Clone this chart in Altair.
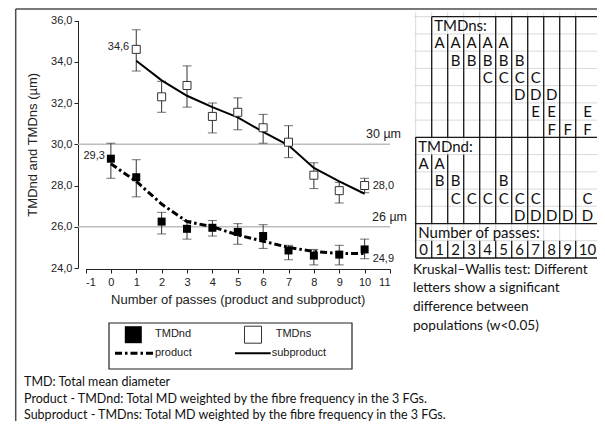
import altair as alt
import pandas as pd

# ---------------- data ----------------
passes_nd = [0, 1, 2, 3, 4, 5, 6, 7, 8, 9, 10]
tmdnd_mean = [29.3, 28.4, 26.25, 25.9, 25.95, 25.75, 25.55, 24.85, 24.6, 24.65, 24.9]
tmdnd_hi = [30.05, 29.25, 26.7, 26.3, 26.3, 26.15, 26.1, 25.1, 24.9, 25.1, 25.4]
tmdnd_lo = [28.35, 27.45, 25.65, 25.4, 25.55, 25.15, 24.95, 24.4, 24.15, 24.15, 24.45]
product_fit = [29.05, 28.2, 27.1, 26.25, 26.0, 25.6, 25.3, 25.0, 24.8, 24.7, 24.7]

passes_ns = [1, 2, 3, 4, 5, 6, 7, 8, 9, 10]
tmdns_mean = [34.6, 32.3, 32.85, 31.35, 31.55, 30.8, 30.1, 28.5, 27.75, 28.0]
tmdns_hi = [35.55, 33.05, 33.8, 32.0, 32.25, 31.45, 30.9, 29.1, 28.15, 28.35]
tmdns_lo = [33.55, 31.55, 31.8, 30.55, 30.7, 30.05, 29.35, 27.85, 27.15, 27.65]
subproduct_fit = [34.05, 33.1, 32.35, 31.8, 31.3, 30.6, 29.95, 28.85, 28.2, 27.6]

ref_levels = [30, 26]
ref_labels = ["30 µm", "26 µm"]

x_ticks = list(range(-1, 12))
y_ticks = [24, 26, 28, 30, 32, 34, 36]

# Kruskal-Wallis letter groups by number of passes
tmdns_groups = {1: "A", 2: "AB", 3: "AB", 4: "ABC", 5: "ABC", 6: "BCD",
                7: "CDE", 8: "DEF", 9: "F", 10: "EF"}
tmdnd_groups = {0: "A", 1: "AB", 2: "BC", 3: "C", 4: "C", 5: "BC", 6: "CD",
                7: "CD", 8: "D", 9: "D", 10: "CD"}
table_passes = list(range(11))
table_headers = ["TMDns:", "TMDnd:", "Number of passes:"]

kw_note = ["Kruskal\u2013Wallis test: Different", "letters show a significant",
           "difference between", "populations (w<0.05)"]
foot_notes = ["TMD: Total mean diameter",
              "Product - TMDnd: Total MD weighted by the fibre frequency in the 3 FGs.",
              "Subproduct - TMDns: Total MD weighted by the fibre frequency in the 3 FGs."]

legend_items = ["TMDnd", "TMDns", "product", "subproduct"]

# ---------------- setup ----------------
FONT = "Liberation Sans"
TFONT = "Lato"
INK = "#222222"
W, H = 589, 413


def fmt(v):
    return f"{v:.1f}".replace(".", ",")


nd = pd.DataFrame({"pass": passes_nd, "mean": tmdnd_mean, "lo": tmdnd_lo,
                   "hi": tmdnd_hi, "fit": product_fit})
ns = pd.DataFrame({"pass": passes_ns, "mean": tmdns_mean, "lo": tmdns_lo,
                   "hi": tmdns_hi, "fit": subproduct_fit})
errs = pd.concat([nd, ns], ignore_index=True)

xs = alt.Scale(domain=[-1, 11], range=[77.5, 382], zero=False, nice=False)
ys = alt.Scale(domain=[24, 36], range=[260, 12.5], zero=False, nice=False)


def X(f):
    return alt.X(f, type="quantitative", scale=xs, axis=None)


def Y(f):
    return alt.Y(f, type="quantitative", scale=ys, axis=None)


layers = []

# reference lines
ref = pd.DataFrame({"level": ref_levels, "label": ref_labels,
                    "x0": [-1.3] * 2, "x1": [11] * 2})
layers.append(alt.Chart(ref).mark_rule(color="#bdbdbd", strokeWidth=1.6).encode(
    x=X("x0"), x2="x1", y=Y("level")))
layers.append(alt.Chart(ref).transform_filter("datum.level == 30").mark_text(
    font=FONT, fontSize=12.5, color=INK, align="left", baseline="bottom", dx=-24, dy=-3
).encode(x=X("x1"), y=Y("level"), text="label"))
layers.append(alt.Chart(ref).transform_filter("datum.level == 26").mark_text(
    font=FONT, fontSize=12.5, color=INK, align="left", baseline="bottom", dx=-18, dy=-3
).encode(x=X("x1"), y=Y("level"), text="label"))

# error bars
layers.append(alt.Chart(errs).mark_rule(color="#333333", strokeWidth=1).encode(
    x=X("pass"), y=Y("lo"), y2="hi"))
layers.append(alt.Chart(errs).transform_fold(["lo", "hi"], as_=["k", "v"]).mark_tick(
    orient="horizontal", size=9, thickness=1, color="#333333").encode(
    x=X("pass"), y=Y("v")))

# fitted lines
layers.append(alt.Chart(ns).mark_line(color="black", strokeWidth=2).encode(
    x=X("pass"), y=Y("fit")))
layers.append(alt.Chart(nd).mark_line(color="black", strokeWidth=3,
                                      strokeDash=[7, 3, 2.5, 3]).encode(
    x=X("pass"), y=Y("fit")))

# points (with axes)
layers.append(alt.Chart(ns).mark_point(shape="square", filled=True, fill="white",
                                       stroke="#333333", strokeWidth=1, size=64,
                                       opacity=1).encode(
    x=X("pass"), y=Y("mean")))
layers.append(alt.Chart(nd).mark_point(shape="square", filled=True, color="black",
                                       size=64, opacity=1).encode(
    x=alt.X("pass", type="quantitative", scale=xs,
            axis=alt.Axis(values=x_ticks, offset=-152, tickSize=4, grid=False,
                          labelExpr="'' + datum.value", labelFontSize=11,
                          labelFont=FONT, labelColor=INK, labelPadding=3,
                          domainColor=INK, tickColor=INK,
                          title="Number of passes (product and subproduct)",
                          titleFont=FONT, titleFontSize=13, titleFontWeight="normal",
                          titleColor=INK, titlePadding=6)),
    y=alt.Y("mean", type="quantitative", scale=ys,
            axis=alt.Axis(values=y_ticks, offset=-70, tickSize=4, grid=False,
                          labelExpr="replace(format(datum.value, '.1f'), '.', ',')",
                          labelFontSize=11, labelFont=FONT, labelColor=INK,
                          labelPadding=2, domainColor=INK, tickColor=INK,
                          title="TMDnd and TMDns (µm)", titleFont=FONT,
                          titleFontSize=13, titleFontWeight="normal",
                          titleColor=INK, titlePadding=11))))

# value labels
lab_ns_first = ns.iloc[[0]].assign(t=[fmt(tmdns_mean[0])])
lab_ns_last = ns.iloc[[-1]].assign(t=[fmt(tmdns_mean[-1])])
lab_nd_first = nd.iloc[[0]].assign(t=[fmt(tmdnd_mean[0])])
lab_nd_last = nd.iloc[[-1]].assign(t=[fmt(tmdnd_mean[-1])])
for d, al, dx, dy in [(lab_ns_first, "right", -7, -2), (lab_nd_first, "right", -6, -3),
                      (lab_ns_last, "left", 8, 0), (lab_nd_last, "left", 8, 10)]:
    layers.append(alt.Chart(d).mark_text(font=FONT, fontSize=11, color=INK, align=al,
                                         baseline="middle", dx=dx, dy=dy).encode(
        x=X("pass"), y=Y("mean"), text="t"))

# ---------------- table ----------------
tx = alt.Scale(domain=[0, 10, 11], range=[407.7, 567.7, 591.3], zero=False, nice=False)
ty = alt.Scale(domain=[0, 14], range=[8.7, 250], zero=False, nice=False)


def TX(f):
    return alt.X(f, type="quantitative", scale=tx, axis=None)


def TY(f):
    return alt.Y(f, type="quantitative", scale=ty, axis=None)


grid_h = pd.DataFrame({"r": list(range(15))}).assign(c0=-0.1, c1=11.12)
grid_v = pd.DataFrame({"c": list(range(12))}).assign(r0=-0.25, r1=14)
layers.append(alt.Chart(grid_h).mark_rule(color="#d9d9d9", strokeWidth=1).encode(
    x=TX("c0"), x2="c1", y=TY("r")))
layers.append(alt.Chart(grid_v).mark_rule(color="#d9d9d9", strokeWidth=1).encode(
    x=TX("c"), y=TY("r0"), y2="r1"))

segs = []
for r, c0, c1 in [(0, 1, 11), (7, 0, 11), (12, 0, 11), (14, 0, 11)]:
    segs.append({"x1": c0, "x2": c1, "y1": r, "y2": r})
vsegs = [(0, 7, 14), (1, 0, 7), (1, 8, 12), (4, 1, 12), (11, 0, 14)]
for c in (2, 3):
    vsegs += [(c, 1, 7), (c, 8, 12)]
for c in range(5, 11):
    vsegs += [(c, 0, 12)]
for c in range(1, 11):
    vsegs += [(c, 13, 14)]
for c, r0, r1 in vsegs:
    segs.append({"x1": c, "x2": c, "y1": r0, "y2": r1})
segs = pd.DataFrame(segs)
layers.append(alt.Chart(segs).mark_rule(color="#1a1a1a", strokeWidth=1.3).encode(
    x=TX("x1"), x2="x2", y=TY("y1"), y2="y2"))

cells = []
for p, letters in tmdns_groups.items():
    for L in letters:
        cells.append({"c": p, "r": 1 + ord(L) - 65, "t": L})
for p, letters in tmdnd_groups.items():
    for L in letters:
        cells.append({"c": p, "r": 8 + ord(L) - 65, "t": L})
for p in table_passes:
    cells.append({"c": p, "r": 13, "t": str(p)})
cells = pd.DataFrame(cells)
layers.append(alt.Chart(cells).transform_calculate(
    cx="datum.c + 0.5", cy="datum.r + 0.55").mark_text(
    font=TFONT, fontSize=15, color="#111111", align="center", baseline="middle").encode(
    x=TX("cx"), y=TY("cy"), text="t"))

heads = pd.DataFrame({"t": table_headers, "c": [1, 0, 0], "r": [0, 7, 12]})
layers.append(alt.Chart(heads).transform_calculate(cy="datum.r + 0.55").mark_text(
    font=TFONT, fontSize=15, color="#111111", align="left", baseline="middle", dx=2.5
).encode(x=TX("c"), y=TY("cy"), text="t"))

layers.append(alt.Chart(pd.DataFrame({"n": [0]})).mark_text(
    font=TFONT, fontSize=13.6, color="#111111", align="left", baseline="top",
    lineHeight=18.7).encode(
    x=alt.value(405), y=alt.value(254.5), text=alt.value(kw_note)))

# ---------------- footnotes ----------------
layers.append(alt.Chart(pd.DataFrame({"n": [0]})).mark_text(
    font=TFONT, fontSize=12.5, color="#111111", align="left", baseline="top",
    lineHeight=16.5).encode(
    x=alt.value(16), y=alt.value(368), text=alt.value(foot_notes)))

# ---------------- legend ----------------
one = pd.DataFrame({"n": [0]})
layers.append(alt.Chart(one).mark_rect(fill="white", stroke=INK, strokeWidth=1.2).encode(
    x=alt.value(101), x2=alt.value(344), y=alt.value(315), y2=alt.value(361)))
layers.append(alt.Chart(one).mark_point(shape="square", filled=True, color="black",
                                        size=289, opacity=1).encode(
    x=alt.value(125.3), y=alt.value(326.7)))
layers.append(alt.Chart(one).mark_point(shape="square", filled=True, fill="white",
                                        stroke="#333333", strokeWidth=1, size=289,
                                        opacity=1).encode(
    x=alt.value(245), y=alt.value(326.7)))
layers.append(alt.Chart(one).mark_rule(color="black", strokeWidth=3,
                                       strokeDash=[7, 3, 2.5, 3]).encode(
    x=alt.value(107), x2=alt.value(145), y=alt.value(345.3)))
layers.append(alt.Chart(one).mark_rule(color="black", strokeWidth=2).encode(
    x=alt.value(227), x2=alt.value(262.7), y=alt.value(345.3)))
for txt, xv, yv in [(legend_items[0], 147, 326.3), (legend_items[1], 267.7, 326.3),
                    (legend_items[2], 147, 345.3), (legend_items[3], 263.7, 345.3)]:
    layers.append(alt.Chart(one).mark_text(font=FONT, fontSize=11, color=INK,
                                           align="left", baseline="middle").encode(
        x=alt.value(xv), y=alt.value(yv), text=alt.value(txt)))

# ---------------- frame ----------------
layers.append(alt.Chart(one).mark_rule(color="#4d4d4d", strokeWidth=1.5).encode(
    x=alt.value(7.7), x2=alt.value(600), y=alt.value(1)))
layers.append(alt.Chart(one).mark_rule(color="#4d4d4d", strokeWidth=1.5).encode(
    x=alt.value(7.7), y=alt.value(1), y2=alt.value(420)))

chart = alt.layer(*layers).resolve_scale(x="independent", y="independent").properties(
    width=W, height=H, padding=0, autosize=alt.AutoSizeParams(type="none")
).configure_view(stroke=None)

chart.save("out.html", embed_options={"renderer": "svg", "actions": False})
